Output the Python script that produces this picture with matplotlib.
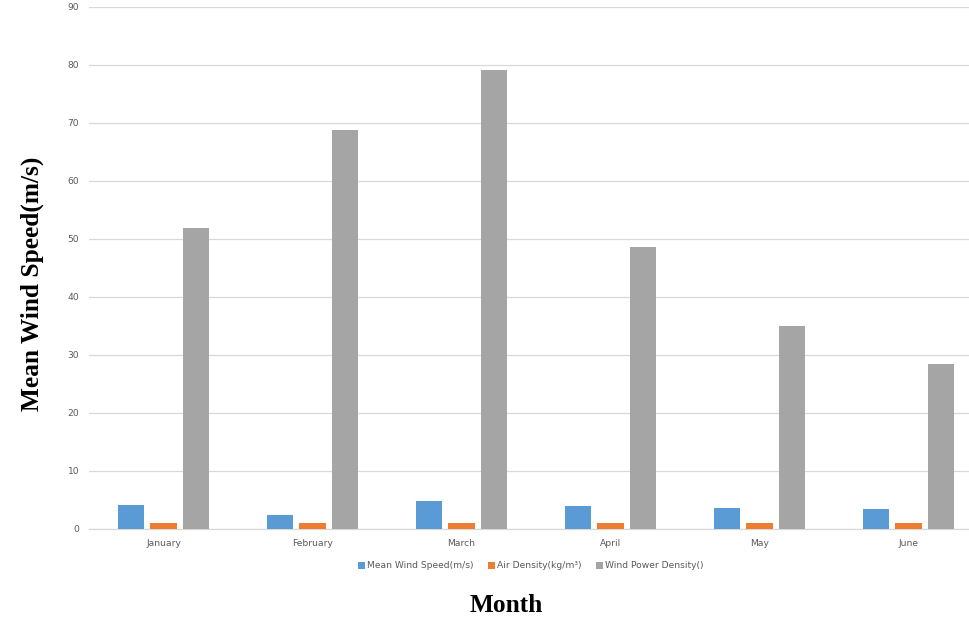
import matplotlib
matplotlib.use("Agg")
import matplotlib.pyplot as plt
import numpy as np
from matplotlib.patches import Patch

months = ["January", "February", "March", "April", "May", "June"]
mean_wind_speed = [4.15, 2.4, 4.85, 3.95, 3.6, 3.45]
air_density = [1.05, 1.05, 1.05, 1.05, 1.05, 1.05]
wind_power_density = [51.9, 68.8, 79.1, 48.6, 35.0, 28.4]
series_names = ["Mean Wind Speed(m/s)", "Air Density(kg/m³)", "Wind Power Density()"]
colors = ["#5B9BD5", "#ED7D31", "#A5A5A5"]

W, H = 970, 628
fig = plt.figure(figsize=(W / 100, H / 100), dpi=100)
left, right, bottom, top = 89, 983, 529, 7
ax = fig.add_axes([left / W, (H - bottom) / H, (right - left) / W, (bottom - top) / H])

x = np.arange(len(months))
bw = 0.1745
step = 0.221
for i, (vals, c) in enumerate(zip([mean_wind_speed, air_density, wind_power_density], colors)):
    ax.bar(x + (i - 1) * step, vals, width=bw, color=c, zorder=3)

ax.set_xlim(-0.5, len(months) - 0.5)
ax.set_ylim(0, 90)
ax.set_yticks(np.arange(0, 91, 10))
ax.set_xticks(x)
ax.set_xticklabels(months)
ax.yaxis.grid(True, color="#D9D9D9", linewidth=0.9, zorder=0)
ax.tick_params(axis="both", length=0, labelsize=6.6, labelcolor="#595959")
ax.tick_params(axis="y", pad=7)
ax.tick_params(axis="x", pad=7)
for s in ["top", "right", "left"]:
    ax.spines[s].set_visible(False)
ax.spines["bottom"].set_color("#D9D9D9")
ax.spines["bottom"].set_linewidth(0.9)

fig.text(32 / W, 1 - 284 / H, "Mean Wind Speed(m/s)", rotation=90, ha="center", va="center",
         fontsize=18.3, fontweight="bold", family="Liberation Serif")
fig.text(506 / W, 1 - 606 / H, "Month", ha="center", va="center",
         fontsize=18.3, fontweight="bold", family="Liberation Serif")

handles = [Patch(facecolor=c, label=n) for c, n in zip(colors, series_names)]
fig.legend(handles=handles, loc="center", bbox_to_anchor=(531 / W, 1 - 566 / H), ncol=3,
           frameon=False, fontsize=6.6, labelcolor="#595959", handlelength=0.75, handleheight=0.75,
           handletextpad=0.25, columnspacing=1.55)

fig.savefig("out.png", dpi=100)
